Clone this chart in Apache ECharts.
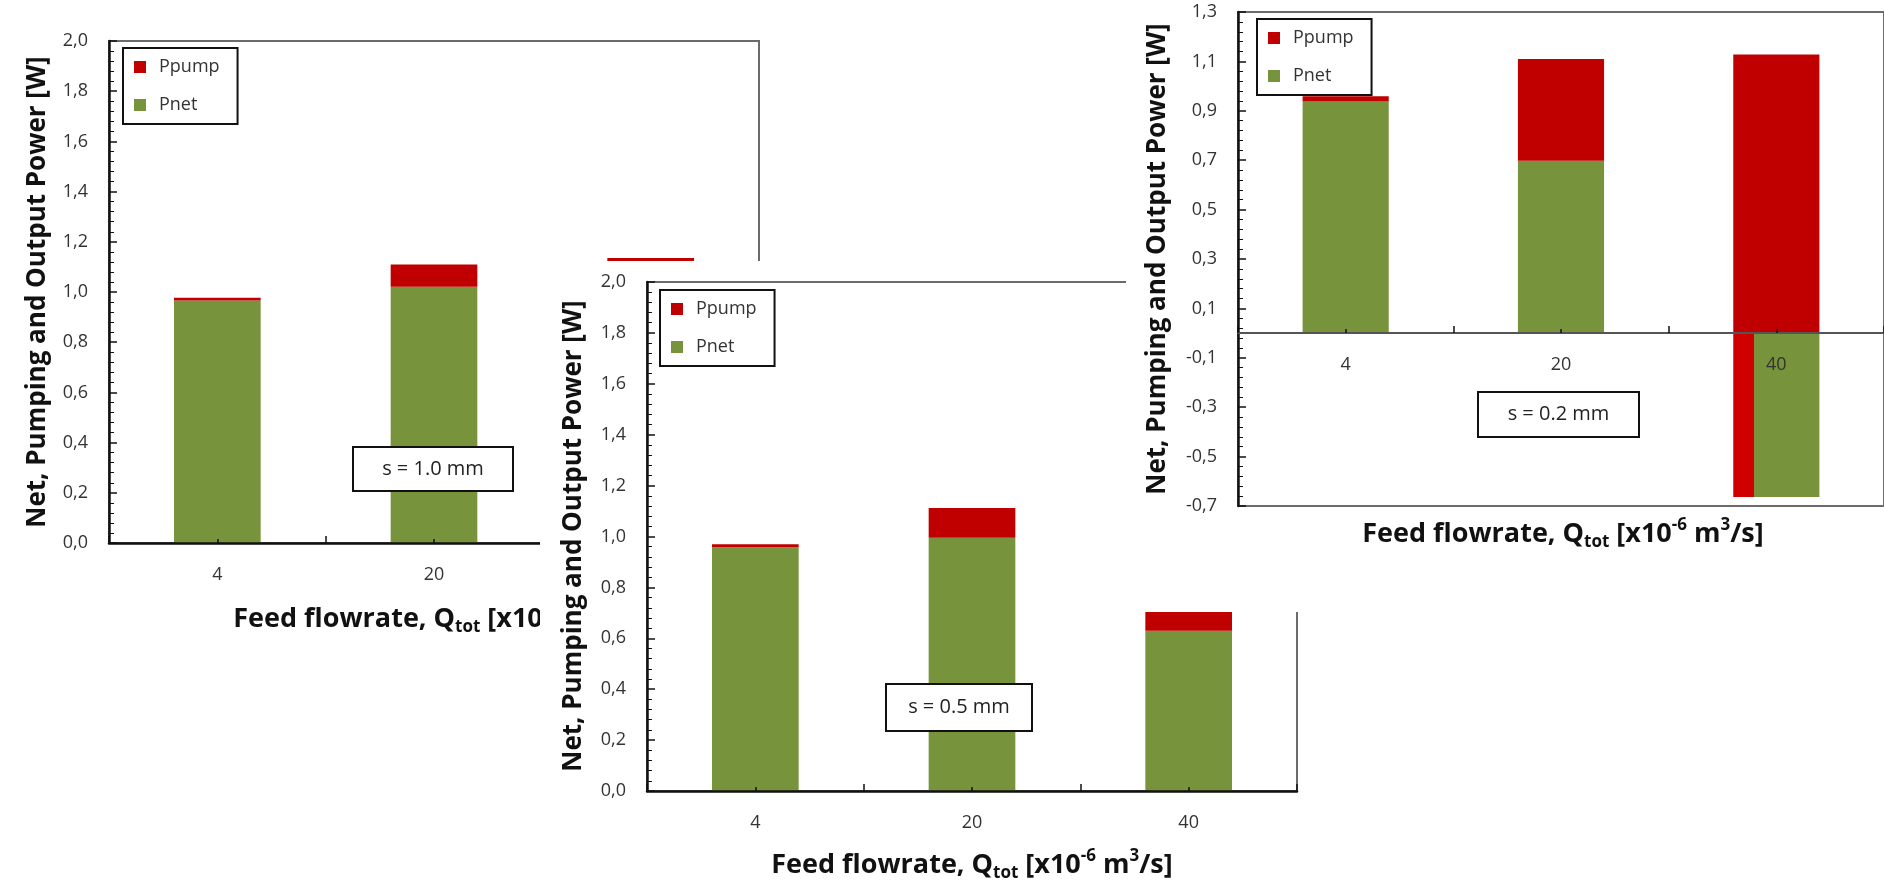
<!DOCTYPE html>
<html><head><meta charset="utf-8">
<script src="https://cdn.jsdelivr.net/npm/echarts@6/dist/echarts.min.js"></script>
<style>
html,body{margin:0;padding:0;background:#fff;width:1884px;height:882px;overflow:hidden;}
.card{position:absolute;background:#fff;}
</style></head><body>
<div id="c1" class="card" style="left:0px;top:0px;width:1884px;height:882px;z-index:1"></div>
<div id="c2" class="card" style="left:540px;top:261px;width:1344px;height:621px;z-index:2"></div>
<div id="c3" class="card" style="left:1126px;top:0px;width:758px;height:612px;z-index:3"></div>
<script>
// ---- data ----
const categories = ['4', '20', '40'];
const seriesNames = ['Ppump', 'Pnet'];
// s = 1.0 mm
const pnet_s10 = [0.966, 1.021, 1.100];
const ppump_s10 = [0.011, 0.089, 0.035];
// s = 0.5 mm
const pnet_s05 = [0.958, 0.995, 0.630];
const ppump_s05 = [0.012, 0.117, 0.080];
// s = 0.2 mm
const pnet_s02 = [0.938, 0.698, -0.664];
const ppump_s02 = [0.021, 0.412, 1.128];
const yRange_s10 = [0, 2.0];
const yRange_s05 = [0, 2.0];
const yRange_s02 = [-0.7, 1.3];
const yStep = 0.2;
const labels = ['s = 1.0 mm', 's = 0.5 mm', 's = 0.2 mm'];
const yTitle = 'Net, Pumping and Output Power [W]';

const FONT = 'Open Sans';
const GREEN = '#77933C', RED = '#C00000';

function makeOption(cfg) {
  const ox = cfg.ox, oy = cfg.oy;
  const g = cfg.grid;
  const splitFill = new echarts.graphic.LinearGradient(0, 0, 1, 0, [
    {offset: 0, color: '#D00000'}, {offset: 0.245, color: '#D00000'},
    {offset: 0.245, color: GREEN}, {offset: 1, color: GREEN}
  ]);
  // distance of the zero line above the grid bottom
  const zeroLift = g.h * (0 - cfg.yRange[0]) / (cfg.yRange[1] - cfg.yRange[0]);
  const labelStyle = {margin: 23, fontSize: 18, color: '#333', fontFamily: FONT};
  const xAxes = [{
    type: 'category', data: categories, z: 5,
    axisLine: {show: true, onZero: true, lineStyle: {color: cfg.zeroColor, width: cfg.zeroWidth}},
    axisTick: {show: true, inside: true, length: 7, alignWithLabel: false, lineStyle: {color: '#111', width: 1.5}},
    axisLabel: zeroLift > 0 ? {show: false} : labelStyle,
    splitLine: {show: false}
  }, {
    type: 'category', data: categories, position: 'bottom', offset: -zeroLift, z: 6,
    axisLine: {show: false, onZero: false},
    axisTick: {show: cfg.centerTicks, inside: true, length: 4, alignWithLabel: true, lineStyle: {color: '#111', width: 1.5}},
    axisLabel: zeroLift > 0 ? labelStyle : {show: false}, splitLine: {show: false}
  }];
  const txtAlign = {align: 'center', verticalAlign: 'middle', textAlign: 'center', textVerticalAlign: 'middle'};
  return {
    animation: false,
    backgroundColor: '#fff',
    grid: {left: g.x - ox, top: g.y - oy, width: g.w, height: g.h, show: true,
      borderColor: '#6b6b6b', borderWidth: 2, backgroundColor: 'transparent'},
    legend: {data: seriesNames, orient: 'vertical', left: cfg.legend[0] - ox, top: cfg.legend[1] - oy,
      icon: 'rect', itemWidth: 12, itemHeight: 12, itemGap: 20, padding: [10, 18, 10, 11],
      borderColor: '#111', borderWidth: 2, backgroundColor: '#fff', selectedMode: false,
      textStyle: {fontSize: 18, color: '#333', fontFamily: FONT, padding: [0, 0, 0, 8]}, z: 20},
    xAxis: xAxes,
    yAxis: {
      type: 'value', min: cfg.yRange[0], max: cfg.yRange[1], interval: yStep, z: 5,
      axisLine: {show: true, onZero: false, lineStyle: {color: '#111', width: 2.5}},
      axisTick: {show: true, inside: true, length: 8, lineStyle: {color: '#111', width: 1.5}},
      minorTick: {show: true, splitNumber: 5, length: 5, lineStyle: {color: '#111', width: 1}},
      splitLine: {show: false},
      axisLabel: {margin: 21, fontSize: 18, color: '#333', fontFamily: FONT,
        formatter: v => v.toFixed(1).replace('.', ',')}
    },
    series: [
      {type: 'bar', name: 'Pnet', stack: 'p', barWidth: '40%', xAxisIndex: 0,
        itemStyle: {color: GREEN},
        data: cfg.pnet.map(v => v < 0 ? {value: v, itemStyle: {color: splitFill}} : v)},
      {type: 'bar', name: 'Ppump', stack: 'p', barWidth: '40%', xAxisIndex: 0,
        itemStyle: {color: RED}, data: cfg.ppump}
    ],
    graphic: [
      {type: 'rect', z: 30, x: cfg.box[0] - ox, y: cfg.box[1] - oy,
        shape: {x: 0, y: 0, width: cfg.box[2], height: cfg.box[3]},
        style: {fill: '#fff', stroke: '#111', lineWidth: 2}},
      {type: 'text', z: 31, x: cfg.box[0] - ox + cfg.box[2] / 2, y: cfg.box[1] - oy + cfg.box[3] / 2,
        style: Object.assign({text: cfg.label, fontSize: 20, fontFamily: FONT, fill: '#222'}, txtAlign)},
      {type: 'text', x: cfg.yt[0] - ox, y: cfg.yt[1] - oy, rotation: Math.PI / 2, z: 30,
        style: Object.assign({text: yTitle, fontSize: 26, fontWeight: 'bold', fontFamily: FONT, fill: '#111'}, txtAlign)},
      {type: 'text', x: cfg.xt[0] - ox, y: cfg.xt[1] - oy, z: 30,
        style: Object.assign({text: '{t|Feed flowrate, Q}{s|tot}{t| [x10}{p|-6}{t| m}{p|3}{t|/s]}',
          rich: {
            t: {fontSize: 27, fontWeight: 'bold', fontFamily: FONT, fill: '#111', color: '#111', lineHeight: 34},
            s: {fontSize: 17, fontWeight: 'bold', fontFamily: FONT, fill: '#111', color: '#111', lineHeight: 17, verticalAlign: 'bottom'},
            p: {fontSize: 17, fontWeight: 'bold', fontFamily: FONT, fill: '#111', color: '#111', lineHeight: 17, verticalAlign: 'top'}
          }}, txtAlign)}
    ]
  };
}

const cfgs = [
  {el: 'c1', ox: 0, oy: 0, grid: {x: 109, y: 41, w: 650, h: 502}, yRange: yRange_s10,
    pnet: pnet_s10, ppump: ppump_s10, legend: [123, 48], box: [353, 447, 160, 44], label: labels[0],
    yt: [38, 292], xt: [434, 619], zeroColor: '#111', zeroWidth: 2.5, centerTicks: true},
  {el: 'c2', ox: 540, oy: 261, grid: {x: 647, y: 282, w: 650, h: 509}, yRange: yRange_s05,
    pnet: pnet_s05, ppump: ppump_s05, legend: [660, 290], box: [886, 684, 146, 47], label: labels[1],
    yt: [574, 536], xt: [972, 865], zeroColor: '#111', zeroWidth: 2.5, centerTicks: true},
  {el: 'c3', ox: 1126, oy: 0, grid: {x: 1238, y: 12, w: 648, h: 494}, yRange: yRange_s02,
    pnet: pnet_s02, ppump: ppump_s02, legend: [1257, 19], box: [1478, 392, 161, 45], label: labels[2],
    yt: [1158, 259], xt: [1563, 534], zeroColor: '#555', zeroWidth: 2, centerTicks: true}
];
cfgs.forEach(c => {
  const chart = echarts.init(document.getElementById(c.el), null, {renderer: 'canvas'});
  chart.setOption(makeOption(c));
});
</script>
</body></html>
